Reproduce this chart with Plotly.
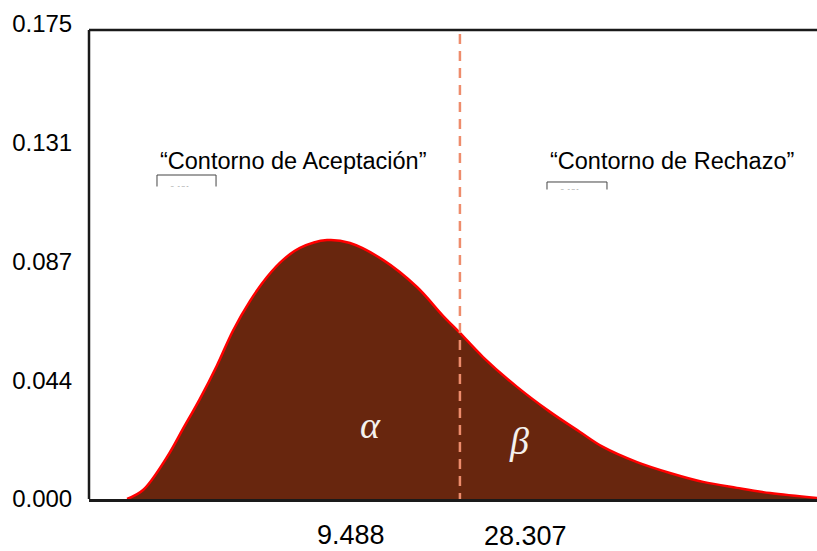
import plotly.graph_objects as go

# ---- data ----
curve_x = [2.09, 2.97, 4.29, 5.16, 6.10, 7.03, 7.91, 8.85, 9.78, 10.66, 11.59, 13.08,
           14.34, 16.15, 18.02, 19.45, 20.38, 21.65, 23.52, 25.33, 26.98, 28.24,
           30.11, 31.92, 33.74, 35.60, 37.42, 40.0]
curve_y = [0.0, 0.0033, 0.0155, 0.0258, 0.0370, 0.0492, 0.0620, 0.0730, 0.0818, 0.0881,
           0.0925, 0.0954, 0.0943, 0.0881, 0.0781, 0.0675, 0.0612, 0.0523, 0.0413,
           0.0321, 0.0247, 0.0192, 0.0136, 0.0096, 0.0063, 0.0041, 0.0022, 0.0004]
critical_x = 20.38
ytick_vals = [0.0, 0.04375, 0.0875, 0.13125, 0.175]
ytick_text = ["0.000", "0.044", "0.087", "0.131", "0.175"]
xlabel_pos = [14.40, 24.0]
xlabel_text = ["9.488", "28.307"]
region_text = ["\u201cContorno de Aceptaci\u00f3n\u201d", "\u201cContorno de Rechazo\u201d"]
region_x = [11.21, 32.03]
greek_text = ["\u03b1", "\u03b2"]
greek_x = [15.44, 23.63]
greek_y = [0.0273, 0.0214]

XMAX = 40.0
YMAX = 0.175
TOP = 0.1728

fig = go.Figure()
fig.add_trace(go.Scatter(
    x=curve_x, y=curve_y, mode="lines",
    line=dict(color="#FF0000", width=2.5, shape="spline", smoothing=1.0),
    fill="tozeroy", fillcolor="#68260E", hoverinfo="skip", showlegend=False))

shapes = [
    dict(type="line", xref="paper", yref="y", x0=0, x1=1, y0=TOP, y1=TOP,
         line=dict(color="#1a1a1a", width=2.5)),
    dict(type="line", xref="paper", yref="y", x0=0, x1=0, y0=0, y1=TOP,
         line=dict(color="#1a1a1a", width=2.5)),
    dict(type="line", xref="x", yref="y", x0=critical_x, x1=critical_x, y0=-0.0015, y1=TOP,
         line=dict(color="#EE8C6C", width=2.5, dash="10px,7px")),
    dict(type="path", xref="paper", yref="paper",
         path="M0.0934,0.6547 L0.0934,0.6821 L0.1745,0.6821 L0.1745,0.6547",
         line=dict(color="#444444", width=1)),
    dict(type="path", xref="paper", yref="paper",
         path="M0.6291,0.6505 L0.6291,0.6674 L0.7115,0.6674 L0.7115,0.6505",
         line=dict(color="#444444", width=1)),
]

annotations = []
for t, xp in zip(region_text, region_x):
    annotations.append(dict(x=xp, y=0.1245, xref="x", yref="y", text=t, showarrow=False,
                            xanchor="center", yanchor="middle",
                            font=dict(family="Liberation Sans, Arial", size=23.5, color="#000000")))
for xp, yp in [(0.125, 0.6547), (0.661, 0.6484)]:
    annotations.append(dict(x=xp, y=yp, xref="paper", yref="paper", text="0.131", showarrow=False,
                            xanchor="center", yanchor="middle",
                            font=dict(family="Liberation Sans, Arial", size=8, color="#555555")))
for xp, yp in [(0.1325, 0.6411), (0.670, 0.6368)]:
    annotations.append(dict(x=xp, y=yp, xref="paper", yref="paper", text="", showarrow=False,
                            width=70, height=12, bgcolor="#ffffff",
                            xanchor="center", yanchor="middle"))
for t, xp, yp, sz in zip(greek_text, greek_x, greek_y, [38, 38]):
    annotations.append(dict(x=xp, y=yp, xref="x", yref="y", text="<i>" + t + "</i>", showarrow=False,
                            xanchor="center", yanchor="middle",
                            font=dict(family="Liberation Serif, DejaVu Serif", size=sz, color="#f4f1ee")))
for t, xp, ys in zip(xlabel_text, xlabel_pos, [-36, -37]):
    annotations.append(dict(x=xp, y=0, xref="x", yref="paper", text=t, showarrow=False,
                            xanchor="center", yanchor="middle", yshift=ys, borderpad=0,
                            font=dict(family="Liberation Sans, Arial", size=27, color="#000000")))

fig.update_layout(
    width=817, height=551,
    margin=dict(l=89, r=0, t=24, b=52),
    paper_bgcolor="white", plot_bgcolor="white",
    shapes=shapes, annotations=annotations,
    xaxis=dict(range=[0, XMAX], showgrid=False, zeroline=False, showticklabels=False,
               ticks="", showline=True, linecolor="#1a1a1a", linewidth=2.5, fixedrange=True),
    yaxis=dict(range=[0, YMAX], showgrid=False, zeroline=False, tickvals=ytick_vals,
               ticktext=ytick_text, ticks="outside", ticklen=11, tickcolor="rgba(0,0,0,0)",
               tickfont=dict(family="Liberation Sans, Arial", size=24, color="#000000"),
               showline=False, fixedrange=True),
)

fig.write_html("out.html", config={"displayModeBar": False},
               post_script="document.body.style.margin='0';document.body.style.overflow='hidden';")
